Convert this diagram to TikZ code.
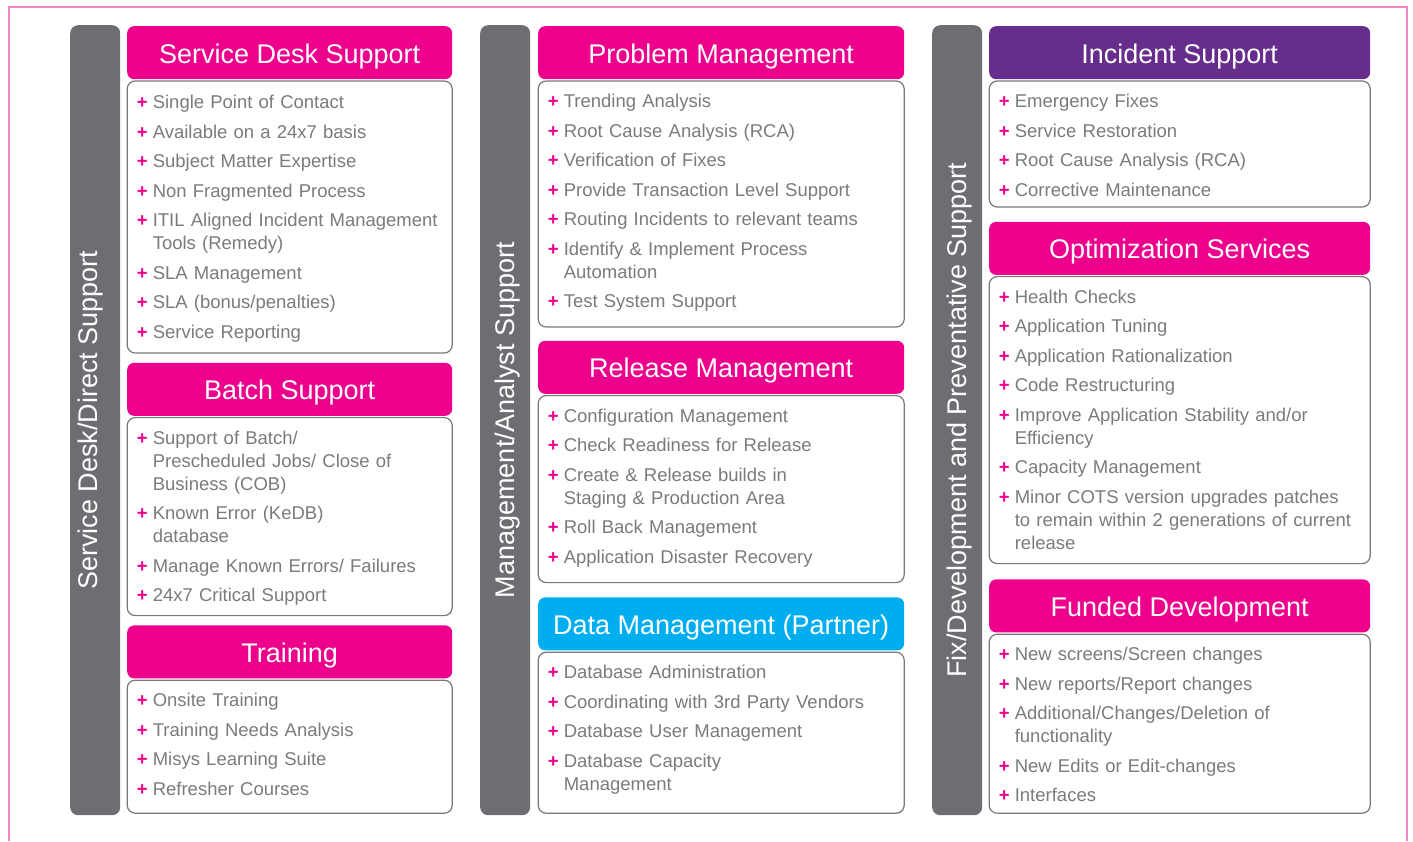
\documentclass[tikz,border=0pt]{standalone}
\usepackage{fontspec}
\setmainfont{Liberation Sans}
\usetikzlibrary{positioning}
\definecolor{hdrpink}{HTML}{EC008C}
\definecolor{hdrpurple}{HTML}{662D8C}
\definecolor{hdrblue}{HTML}{00AEEF}
\definecolor{bargray}{HTML}{6D6E72}
\definecolor{linegray}{HTML}{77787B}
\definecolor{itemgray}{HTML}{7A7B7E}
\definecolor{framepink}{HTML}{F287C4}
\newcommand{\itm}[1]{\noindent\hangindent=16pt\hangafter=1\strut\makebox[16pt][l]{\textcolor{hdrpink}{\bfseries +}}#1\par}
\tikzstyle{sidebar} = [rectangle, rounded corners=8pt, fill=bargray, minimum width=50pt, minimum height=790pt, inner sep=0pt, anchor=north west]
\tikzstyle{sidetext} = [rotate=90, text=white, inner sep=0pt, text height=19pt, text depth=0pt, font=\fontsize{27}{30}\selectfont]
\tikzstyle{header} = [rectangle, rounded corners=7pt, fill=hdrpink, text=white, minimum height=53pt, inner sep=0pt, text height=21pt, text depth=0pt, font=\fontsize{27}{30}\selectfont]
\tikzstyle{body} = [rectangle, rounded corners=8pt, draw=linegray, line width=1.2pt, fill=white, inner sep=0pt]
\tikzstyle{list} = [anchor=north west, text width=370pt, align=left, inner sep=0pt, text=itemgray, font=\fontsize{18.5}{23}\selectfont\setlength{\parskip}{6.5pt}]
\tikzstyle{colA} = [minimum width=325pt]
\tikzstyle{colB} = [minimum width=366pt]
\tikzstyle{colC} = [minimum width=381pt]
\begin{document}
\begin{tikzpicture}[x=1pt, y=-1pt, node distance=1pt]
\useasboundingbox (0,0) rectangle (1413,841);
\draw [framepink, line width=1.6pt] (9,841) |- (1407,7) -- (1407,841);

% left column
\node (bar1) [sidebar] at (70,25) {};
\node (side1) [sidetext, yshift=7pt] at (bar1.center) {Service Desk/Direct Support};
\node (hd1) [header, colA, anchor=north west] at (127,26) {Service Desk Support};
\node (bd1) [body, colA, minimum height=272pt, below=of hd1] {};
\node (ls1) [list, below right=12pt and 10pt of bd1.north west] {\itm{Single Point of Contact}\itm{Available on a 24x7 basis}\itm{Subject Matter Expertise}\itm{Non Fragmented Process}\itm{ITIL Aligned Incident Management\newline Tools (Remedy)}\itm{SLA Management}\itm{SLA (bonus/penalties)}\itm{Service Reporting}};
\node (hd2) [header, colA, below=9pt of bd1] {Batch Support};
\node (bd2) [body, colA, minimum height=198pt, below=of hd2] {};
\node (ls2) [list, below right=11pt and 10pt of bd2.north west] {\itm{Support of Batch/\newline Prescheduled Jobs/ Close of\newline Business (COB)}\itm{Known Error (KeDB)\newline database}\itm{Manage Known Errors/ Failures}\itm{24x7 Critical Support}};
\node (hd3) [header, colA, below=9pt of bd2] {Training};
\node (bd3) [body, colA, minimum height=133pt, below=of hd3] {};
\node (ls3) [list, below right=11pt and 10pt of bd3.north west] {\itm{Onsite Training}\itm{Training Needs Analysis}\itm{Misys Learning Suite}\itm{Refresher Courses}};

% middle column
\node (bar2) [sidebar] at (480,25) {};
\node (side2) [sidetext] at (bar2.center) {Management/Analyst Support};
\node (hd4) [header, colB, anchor=north west] at (538,26) {Problem Management};
\node (bd4) [body, colB, minimum height=246pt, below=of hd4] {};
\node (ls4) [list, below right=11pt and 10pt of bd4.north west] {\itm{Trending Analysis}\itm{Root Cause Analysis (RCA)}\itm{Verification of Fixes}\itm{Provide Transaction Level Support}\itm{Routing Incidents to relevant teams}\itm{Identify \& Implement Process\newline Automation}\itm{Test System Support}};
\node (hd5) [header, colB, below=13pt of bd4] {Release Management};
\node (bd5) [body, colB, minimum height=187pt, below=of hd5] {};
\node (ls5) [list, below right=11pt and 10pt of bd5.north west] {\itm{Configuration Management}\itm{Check Readiness for Release}\itm{Create \& Release builds in\newline Staging \& Production Area}\itm{Roll Back Management}\itm{Application Disaster Recovery}};
\node (hd6) [header, colB, fill=hdrblue, below=14pt of bd5] {Data Management (Partner)};
\node (bd6) [body, colB, minimum height=161pt, below=of hd6] {};
\node (ls6) [list, below right=11pt and 10pt of bd6.north west] {\itm{Database Administration}\itm{Coordinating with 3rd Party Vendors}\itm{Database User Management}\itm{Database Capacity\newline Management}};

% right column
\node (bar3) [sidebar] at (932,25) {};
\node (side3) [sidetext] at (bar3.center) {Fix/Development and Preventative Support};
\node (hd7) [header, colC, fill=hdrpurple, anchor=north west] at (989,26) {Incident Support};
\node (bd7) [body, colC, minimum height=126pt, below=of hd7] {};
\node (ls7) [list, below right=11pt and 10pt of bd7.north west] {\itm{Emergency Fixes}\itm{Service Restoration}\itm{Root Cause Analysis (RCA)}\itm{Corrective Maintenance}};
\node (hd8) [header, colC, below=14pt of bd7] {Optimization Services};
\node (bd8) [body, colC, minimum height=287pt, below=of hd8] {};
\node (ls8) [list, below right=11pt and 10pt of bd8.north west] {\itm{Health Checks}\itm{Application Tuning}\itm{Application Rationalization}\itm{Code Restructuring}\itm{Improve Application Stability and/or\newline Efficiency}\itm{Capacity Management}\itm{Minor COTS version upgrades patches\newline to remain within 2 generations of current\newline release}};
\node (hd9) [header, colC, below=15pt of bd8] {Funded Development};
\node (bd9) [body, colC, minimum height=179pt, below=of hd9] {};
\node (ls9) [list, below right=11pt and 10pt of bd9.north west] {\itm{New screens/Screen changes}\itm{New reports/Report changes}\itm{Additional/Changes/Deletion of\newline functionality}\itm{New Edits or Edit-changes}\itm{Interfaces}};
\end{tikzpicture}
\end{document}
